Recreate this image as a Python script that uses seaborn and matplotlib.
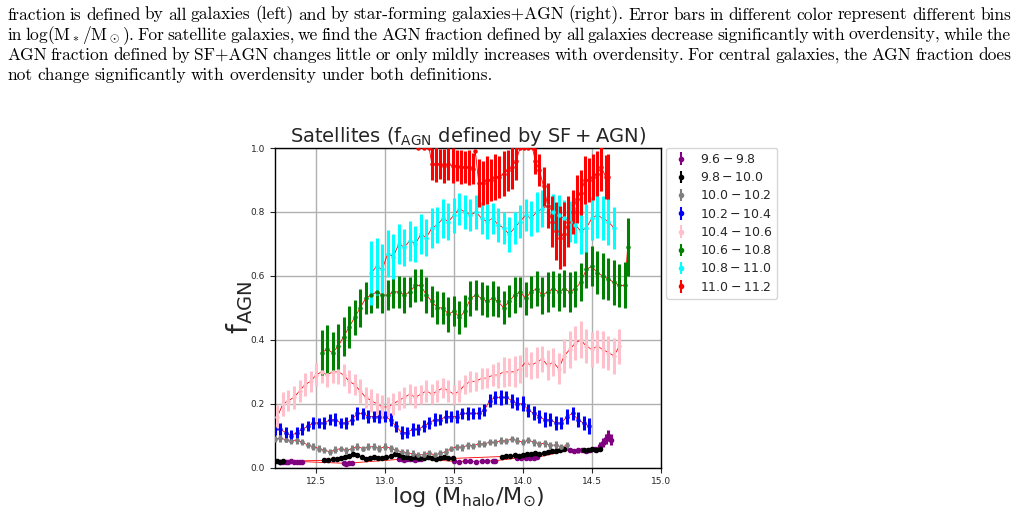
import matplotlib
matplotlib.use("Agg")
import matplotlib.pyplot as plt
import seaborn as sns
import numpy as np

# ---- data: log(M_halo), f_AGN, 1-sigma error ----
labels = ["$9.6-9.8$", "$9.8-10.0$", "$10.0-10.2$", "$10.2-10.4$",
          "$10.4-10.6$", "$10.6-10.8$", "$10.8-11.0$", "$11.0-11.2$"]
colors = ["purple", "black", "gray", "blue", "pink", "green", "cyan", "red"]

purple_x = [12.24, 12.26, 12.28, 12.30, 12.32, 12.34, 12.36, 12.38, 12.40,
            12.70, 12.72, 12.74, 12.76,
            13.10, 13.12, 13.14, 13.16, 13.18, 13.20, 13.22, 13.24, 13.26,
            13.50, 13.54, 13.58, 13.62, 13.66, 13.70, 13.74, 13.78, 13.80,
            13.96, 13.99, 14.02, 14.05, 14.08, 14.10,
            14.34, 14.37, 14.40, 14.43, 14.46, 14.49, 14.52,
            14.56, 14.58, 14.60, 14.62, 14.64]
purple_y = [0.019, 0.019, 0.018, 0.019, 0.020, 0.019, 0.018, 0.019, 0.019,
            0.014, 0.013, 0.014, 0.015,
            0.026, 0.027, 0.025, 0.026, 0.027, 0.026, 0.025, 0.026, 0.027,
            0.020, 0.019, 0.021, 0.020, 0.019, 0.021, 0.022, 0.021, 0.022,
            0.030, 0.031, 0.029, 0.031, 0.030, 0.032,
            0.055, 0.052, 0.054, 0.056, 0.053, 0.055, 0.057,
            0.068, 0.078, 0.090, 0.100, 0.088]
purple_e = [0.004] * 9 + [0.004] * 4 + [0.004] * 9 + [0.004] * 9 + [0.005] * 6 \
    + [0.007] * 7 + [0.012, 0.014, 0.016, 0.018, 0.016]

black_x = [12.20, 12.22, 12.24, 12.26,
           12.56, 12.59, 12.62, 12.65, 12.68, 12.71, 12.74, 12.77, 12.80, 12.83,
           12.86, 12.89, 12.92, 12.95, 12.98, 13.01, 13.04,
           13.07, 13.10, 13.13, 13.16, 13.19, 13.22, 13.25, 13.28, 13.31, 13.34,
           13.37, 13.40, 13.43, 13.46, 13.49,
           13.85, 13.88, 13.91, 13.94, 13.97, 14.00, 14.03, 14.06, 14.09, 14.12,
           14.15, 14.18, 14.21, 14.24, 14.27, 14.30,
           14.44, 14.47, 14.50, 14.53, 14.56]
black_y = [0.020, 0.021, 0.019, 0.020,
           0.023, 0.025, 0.026, 0.028, 0.031, 0.034, 0.038, 0.044, 0.040, 0.034,
           0.028, 0.030, 0.034, 0.031, 0.029, 0.032, 0.036,
           0.043, 0.040, 0.035, 0.033, 0.031, 0.034, 0.030, 0.029, 0.032, 0.030,
           0.028, 0.031, 0.033, 0.030, 0.029,
           0.035, 0.037, 0.036, 0.039, 0.038, 0.041, 0.043, 0.042, 0.045, 0.044,
           0.047, 0.049, 0.051, 0.053, 0.056, 0.058,
           0.054, 0.056, 0.058, 0.055, 0.057]
black_e = [0.004] * len(black_x)

gray_x = [12.20, 12.24, 12.28, 12.32, 12.36, 12.40, 12.44, 12.48, 12.52, 12.56,
          12.60, 12.64, 12.68, 12.72, 12.76, 12.80, 12.84, 12.88, 12.92, 12.96,
          13.00, 13.04, 13.08, 13.12, 13.16, 13.20, 13.24, 13.28, 13.32, 13.36,
          13.40, 13.44, 13.48, 13.52, 13.56, 13.60, 13.64, 13.68, 13.72, 13.76,
          13.80, 13.84, 13.88, 13.92, 13.96, 14.00, 14.04, 14.08, 14.12, 14.16,
          14.20, 14.24, 14.28, 14.32]
gray_y = [0.090, 0.092, 0.088, 0.085, 0.086, 0.080, 0.071, 0.066, 0.060, 0.055,
          0.050, 0.056, 0.060, 0.054, 0.060, 0.066, 0.060, 0.065, 0.066, 0.060,
          0.066, 0.061, 0.055, 0.050, 0.046, 0.044, 0.040, 0.041, 0.046, 0.040,
          0.045, 0.050, 0.060, 0.065, 0.064, 0.070, 0.069, 0.075, 0.074, 0.080,
          0.079, 0.085, 0.084, 0.090, 0.085, 0.080, 0.086, 0.080, 0.075, 0.076,
          0.070, 0.071, 0.065, 0.070]
gray_e = [0.010, 0.011, 0.009, 0.010, 0.011, 0.010, 0.009, 0.011, 0.010, 0.010] * 5 \
    + [0.010, 0.011, 0.009, 0.010]

blue_x = [12.20, 12.24, 12.28, 12.32, 12.36, 12.40, 12.44, 12.48, 12.52, 12.56,
          12.60, 12.64, 12.68, 12.72, 12.76, 12.80, 12.84, 12.88, 12.92, 12.96,
          13.00, 13.04, 13.08, 13.12, 13.16, 13.20, 13.24, 13.28, 13.32, 13.36,
          13.40, 13.44, 13.48, 13.52, 13.56, 13.60, 13.64, 13.68, 13.72, 13.76,
          13.80, 13.84, 13.88, 13.92, 13.96, 14.00, 14.04, 14.08, 14.12, 14.16,
          14.20, 14.24, 14.28, 14.32, 14.36, 14.40, 14.44, 14.48]
blue_y = [0.12, 0.12, 0.11, 0.10, 0.11, 0.12, 0.13, 0.14, 0.14, 0.14,
          0.15, 0.15, 0.14, 0.14, 0.15, 0.17, 0.17, 0.16, 0.16, 0.16,
          0.16, 0.15, 0.13, 0.11, 0.11, 0.12, 0.12, 0.13, 0.14, 0.15,
          0.15, 0.16, 0.16, 0.16, 0.17, 0.17, 0.17, 0.17, 0.18, 0.21,
          0.22, 0.22, 0.22, 0.21, 0.20, 0.20, 0.18, 0.17, 0.16, 0.15,
          0.15, 0.14, 0.14, 0.16, 0.17, 0.15, 0.14, 0.13]
blue_e = [0.017, 0.019, 0.016, 0.018, 0.017, 0.019, 0.016, 0.018, 0.017, 0.019,
          0.018, 0.020, 0.017, 0.019, 0.018, 0.020, 0.017, 0.019, 0.018, 0.020,
          0.018, 0.020, 0.017, 0.019, 0.018, 0.020, 0.017, 0.019, 0.018, 0.020,
          0.018, 0.020, 0.017, 0.019, 0.018, 0.020, 0.017, 0.019, 0.018, 0.020,
          0.021, 0.023, 0.020, 0.022, 0.021, 0.023, 0.020, 0.022, 0.021, 0.023,
          0.021, 0.023, 0.020, 0.024, 0.021, 0.023, 0.022, 0.024]

pink_x = [12.22, 12.26, 12.30, 12.34, 12.38, 12.42, 12.46, 12.50, 12.54, 12.58,
          12.62, 12.66, 12.70, 12.74, 12.78, 12.82, 12.86, 12.90, 12.94, 12.98,
          13.02, 13.06, 13.10, 13.14, 13.18, 13.22, 13.26, 13.30, 13.34, 13.38,
          13.42, 13.46, 13.50, 13.54, 13.58, 13.62, 13.66, 13.70, 13.74, 13.78,
          13.82, 13.86, 13.90, 13.94, 13.98, 14.02, 14.06, 14.10, 14.14, 14.18,
          14.22, 14.26, 14.30, 14.34, 14.38, 14.42, 14.46, 14.50, 14.54, 14.58,
          14.62, 14.66, 14.70]
pink_y = [0.16, 0.20, 0.21, 0.22, 0.24, 0.26, 0.27, 0.29, 0.30, 0.29,
          0.30, 0.30, 0.29, 0.27, 0.26, 0.24, 0.22, 0.21, 0.20, 0.19,
          0.19, 0.20, 0.21, 0.22, 0.23, 0.22, 0.23, 0.24, 0.23, 0.24,
          0.25, 0.24, 0.23, 0.24, 0.26, 0.27, 0.27, 0.28, 0.28, 0.29,
          0.29, 0.30, 0.30, 0.30, 0.31, 0.33, 0.32, 0.33, 0.34, 0.32,
          0.33, 0.31, 0.35, 0.37, 0.39, 0.40, 0.38, 0.37, 0.38, 0.37,
          0.36, 0.35, 0.38]
pink_e = [0.035, 0.038, 0.033, 0.036, 0.034, 0.037, 0.033, 0.036, 0.034, 0.037,
          0.035, 0.038, 0.033, 0.036, 0.034, 0.037, 0.033, 0.036, 0.034, 0.037,
          0.031, 0.034, 0.030, 0.033, 0.031, 0.034, 0.030, 0.033, 0.031, 0.034,
          0.031, 0.034, 0.030, 0.033, 0.031, 0.034, 0.030, 0.033, 0.031, 0.034,
          0.042, 0.047, 0.043, 0.048, 0.044, 0.046, 0.043, 0.048, 0.042, 0.047,
          0.044, 0.048, 0.053, 0.057, 0.052, 0.058, 0.054, 0.056, 0.052, 0.058,
          0.053, 0.057, 0.055]

green_x = [12.54, 12.58, 12.62, 12.66, 12.70, 12.74, 12.78, 12.82, 12.86, 12.90,
           12.94, 12.98, 13.02, 13.06, 13.10, 13.14, 13.18, 13.22, 13.26, 13.30,
           13.34, 13.38, 13.42, 13.46, 13.50, 13.54, 13.58, 13.62, 13.66, 13.70,
           13.74, 13.78, 13.82, 13.86, 13.90, 13.94, 13.98, 14.02, 14.06, 14.10,
           14.14, 14.18, 14.22, 14.26, 14.30, 14.34, 14.38, 14.42, 14.46, 14.50,
           14.54, 14.58, 14.62, 14.66, 14.70, 14.74, 14.76]
green_y = [0.36, 0.37, 0.36, 0.38, 0.41, 0.44, 0.47, 0.50, 0.53, 0.54,
           0.55, 0.54, 0.54, 0.55, 0.55, 0.54, 0.55, 0.57, 0.57, 0.54,
           0.52, 0.50, 0.50, 0.48, 0.49, 0.47, 0.49, 0.53, 0.54, 0.53,
           0.52, 0.53, 0.52, 0.50, 0.52, 0.54, 0.55, 0.53, 0.55, 0.56,
           0.54, 0.55, 0.56, 0.55, 0.56, 0.55, 0.56, 0.58, 0.62, 0.63,
           0.61, 0.60, 0.59, 0.58, 0.57, 0.57, 0.69]
green_e = [0.07, 0.075, 0.065, 0.07, 0.06, 0.065, 0.055, 0.06, 0.05, 0.055,
           0.05, 0.055, 0.048, 0.052, 0.05, 0.055, 0.048, 0.052, 0.05, 0.055,
           0.048, 0.052, 0.05, 0.055, 0.048, 0.052, 0.05, 0.055, 0.048, 0.052,
           0.05, 0.055, 0.048, 0.052, 0.05, 0.055, 0.048, 0.052, 0.05, 0.055,
           0.058, 0.062, 0.056, 0.06, 0.058, 0.062, 0.056, 0.06, 0.058, 0.062,
           0.068, 0.072, 0.066, 0.07, 0.068, 0.072, 0.09]

cyan_x = [12.90, 12.94, 12.98, 13.02, 13.06, 13.10, 13.14, 13.18, 13.22, 13.26,
          13.30, 13.34, 13.38, 13.42, 13.46, 13.50, 13.54, 13.58, 13.62, 13.66,
          13.70, 13.74, 13.78, 13.82, 13.86, 13.90, 13.94, 13.98, 14.02, 14.06,
          14.10, 14.14, 14.18, 14.22, 14.26, 14.30, 14.34, 14.38, 14.42, 14.46,
          14.50, 14.54, 14.58, 14.62, 14.66]
cyan_y = [0.61, 0.63, 0.62, 0.67, 0.66, 0.70, 0.69, 0.71, 0.70, 0.73,
          0.72, 0.75, 0.76, 0.78, 0.77, 0.79, 0.81, 0.80, 0.79, 0.80,
          0.78, 0.77, 0.78, 0.76, 0.75, 0.73, 0.75, 0.77, 0.79, 0.78,
          0.80, 0.81, 0.82, 0.80, 0.79, 0.78, 0.77, 0.76, 0.74, 0.75,
          0.78, 0.79, 0.78, 0.77, 0.75]
cyan_e = [0.10, 0.09, 0.08, 0.075, 0.07, 0.062, 0.058, 0.063, 0.057, 0.062,
          0.058, 0.063, 0.057, 0.062, 0.058, 0.055, 0.05, 0.054, 0.049, 0.053,
          0.05, 0.054, 0.049, 0.053, 0.05, 0.054, 0.049, 0.053, 0.05, 0.054,
          0.062, 0.058, 0.063, 0.057, 0.062, 0.058, 0.063, 0.057, 0.07, 0.074,
          0.068, 0.072, 0.069, 0.073, 0.065]

red_x = [13.24, 13.28, 13.32, 13.34, 13.37, 13.40, 13.43, 13.46, 13.49, 13.52,
         13.55, 13.58, 13.61, 13.64, 13.655, 13.68, 13.71, 13.74, 13.77, 13.80,
         13.83, 13.86, 13.89, 13.92, 13.95, 13.98, 14.01, 14.04, 14.07, 14.09,
         14.12, 14.15, 14.18, 14.21, 14.24, 14.27, 14.30, 14.33, 14.36, 14.39,
         14.42, 14.45, 14.48, 14.51, 14.54, 14.57, 14.60, 14.62]
red_y = [1.00, 1.00, 1.00, 0.95, 0.95, 0.95, 0.945, 0.95, 0.945, 0.945,
         0.94, 0.94, 0.94, 0.935, 0.99, 0.89, 0.89, 0.90, 0.90, 0.91,
         0.91, 0.92, 0.93, 0.94, 0.96, 1.00, 1.00, 1.00, 1.00, 0.96,
         0.93, 0.88, 0.82, 0.77, 0.74, 0.72, 0.73, 0.77, 0.80, 0.84,
         0.86, 0.90, 0.90, 0.91, 0.92, 0.94, 0.91, 0.91]
red_e = [0.0, 0.0, 0.0, 0.05, 0.055, 0.048, 0.053, 0.05, 0.055, 0.048,
         0.053, 0.05, 0.055, 0.048, 0.0, 0.075, 0.068, 0.074, 0.067, 0.072,
         0.066, 0.071, 0.064, 0.068, 0.06, 0.0, 0.0, 0.0, 0.0, 0.04,
         0.05, 0.06, 0.07, 0.08, 0.09, 0.10, 0.10, 0.08, 0.07, 0.075,
         0.07, 0.075, 0.068, 0.072, 0.07, 0.074, 0.068, 0.07]

series = [(purple_x, purple_y, purple_e), (black_x, black_y, black_e),
          (gray_x, gray_y, gray_e), (blue_x, blue_y, blue_e),
          (pink_x, pink_y, pink_e), (green_x, green_y, green_e),
          (cyan_x, cyan_y, cyan_e), (red_x, red_y, red_e)]
marker_sizes = [3.0, 3.0, 2.4, 2.2, 2.2, 2.2, 2.2, 2.2]

caption_lines = [
    "fraction is defined by all galaxies (left) and by star-forming galaxies+AGN (right). Error bars in different color represent different bins",
    "in log(M$_*$/M$_\\odot$). For satellite galaxies, we find the AGN fraction defined by all galaxies decrease significantly with overdensity, while the",
    "AGN fraction defined by SF+AGN changes little or only mildly increases with overdensity. For central galaxies, the AGN fraction does",
    "not change significantly with overdensity under both definitions.",
]
caption_base = [19.5, 39.7, 59.8, 80.0]   # baseline, pixels from top

# ---- style ----
sns.set_theme(style="whitegrid", rc={
    "axes.edgecolor": "black", "axes.linewidth": 1.0,
    "grid.color": "#b0b0b0", "grid.linewidth": 1.0,
    "xtick.bottom": True, "ytick.left": True,
    "xtick.major.size": 3.5, "ytick.major.size": 3.5,
    "xtick.major.width": 0.8, "ytick.major.width": 0.8,
    "xtick.labelsize": 6.5, "ytick.labelsize": 6.5,
})
plt.rcParams['font.family'] = ['DejaVu Sans']

fig = plt.figure(figsize=(10.16, 5.13), dpi=100)
W, H = 1016, 513
ax = fig.add_axes([274.7 / W, 1 - 467.7 / H, (660.75 - 274.7) / W, (467.7 - 148.0) / H])

for (x, y, e), col, lab, ms in zip(series, colors, labels, marker_sizes):
    sns.lineplot(x=x, y=y, ax=ax, color="red", lw=0.6, sort=False,
                 estimator=None, zorder=1.5, legend=False)
    ax.errorbar(x, y, yerr=e, fmt="o", ms=ms, color=col, ecolor=col,
                elinewidth=2.2, capsize=0, zorder=3)

# legend proxies drawn with thin bars, like the original legend
handles = [ax.errorbar([np.nan], [np.nan], yerr=[np.nan], fmt="o", ms=3,
                       color=c, ecolor=c, elinewidth=1.5, capsize=0)
           for c in colors]

ax.set_xlim(12.2, 15.0)
ax.set_ylim(0.0, 1.0)
ax.set_xticks([12.5, 13.0, 13.5, 14.0, 14.5, 15.0])
ax.set_yticks([0.0, 0.2, 0.4, 0.6, 0.8, 1.0])
ax.grid(True, color="#b0b0b0", lw=1.0)
for s in ax.spines.values():
    s.set_color("black")

ax.set_title("Satellites ($\\mathrm{f_{AGN}}$ defined by $\\mathrm{SF+AGN}$)",
             fontsize=14, pad=3)
ax.set_ylabel("$\\mathrm{f_{AGN}}$", fontsize=20, labelpad=-3)
ax.set_xlabel("$\\mathrm{log\\ (M_{halo}/M_{\\odot})}$", fontsize=16, labelpad=-1)

leg = ax.legend(handles=handles, labels=labels, loc="upper left",
                bbox_to_anchor=(1.005, 1.012), fontsize=9, frameon=True,
                borderaxespad=0.3, handlelength=1.5, labelspacing=0.42)
leg.get_frame().set_edgecolor("#cccccc")

# ---- caption text above the chart, justified ----
renderer = fig.canvas.get_renderer()
x_left, x_right = 7.0, 1011.0
for i, line in enumerate(caption_lines):
    words = line.split()
    txts = [fig.text(0, 1 - caption_base[i] / H, w, fontsize=12.5, family="cmr10",
                     math_fontfamily="cm", va="baseline", color="black")
            for w in words]
    ws = [t.get_window_extent(renderer).width for t in txts]
    if i < len(caption_lines) - 1:
        gap = (x_right - x_left - sum(ws)) / (len(words) - 1)
    else:
        gap = 5.0
    pos = x_left
    for t, w in zip(txts, ws):
        t.set_x(pos / W)
        pos += w + gap

fig.savefig("out.png", dpi=100)
